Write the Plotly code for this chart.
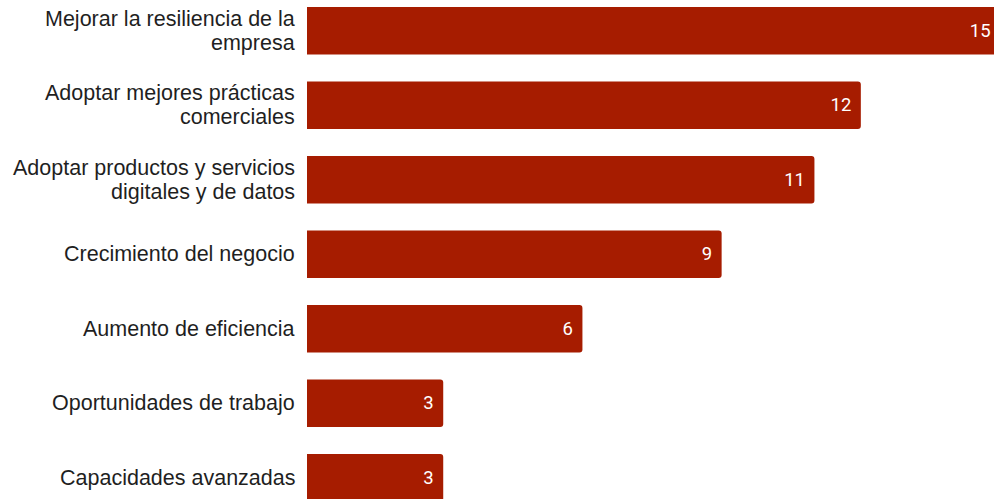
import plotly.graph_objects as go

categories = [
    "Mejorar la resiliencia de la<br>empresa",
    "Adoptar mejores prácticas<br>comerciales",
    "Adoptar productos y servicios<br>digitales y de datos",
    "Crecimiento del negocio",
    "Aumento de eficiencia",
    "Oportunidades de trabajo",
    "Capacidades avanzadas",
]
values = [15, 12, 11, 9, 6, 3, 3]
value_labels = [f"{v}\u00a0\u200a" for v in values]

BAR_COLOR = "#A61C00"
LABEL_FONT = dict(family="Liberation Sans, Arial, sans-serif", size=21.5, color="#1f1f1f")
LINE_GAP = 24

fig = go.Figure(
    go.Bar(
        x=values,
        y=categories,
        orientation="h",
        width=0.64,
        marker=dict(color=BAR_COLOR, cornerradius=3, line=dict(width=0)),
        text=value_labels,
        textposition="inside",
        insidetextanchor="end",
        textangle=0,
        textfont=dict(family="Roboto", size=18.5, color="#FFFFFF"),
        cliponaxis=True,
        hoverinfo="skip",
    )
)

# category labels drawn line by line (tighter line spacing than tick labels)
for cat in categories:
    lines = cat.split("<br>")
    n = len(lines)
    for i, line in enumerate(lines):
        fig.add_annotation(
            x=0, xref="paper", xanchor="right", xshift=-10,
            y=cat, yref="y", yanchor="middle",
            yshift=((n - 1) / 2 - i) * LINE_GAP,
            text=line, showarrow=False, font=LABEL_FONT, align="right",
        )

fig.update_layout(
    width=994,
    height=499,
    margin=dict(l=307, r=0, t=0, b=0),
    plot_bgcolor="#FFFFFF",
    paper_bgcolor="#FFFFFF",
    showlegend=False,
    font=dict(family="Liberation Sans, Arial, sans-serif", size=18, color="#1f1f1f"),
)
fig.update_xaxes(
    range=[0.064, 14.87],
    showgrid=False,
    zeroline=False,
    showticklabels=False,
    ticks="",
    showline=False,
)
fig.update_yaxes(
    range=[6.285, -0.413],
    showgrid=False,
    zeroline=False,
    showline=False,
    ticks="",
    showticklabels=False,
)

fig.write_html(
    "out.html",
    config={"displayModeBar": False},
    post_script="document.body.style.margin='0';document.body.style.overflow='hidden';",
)
